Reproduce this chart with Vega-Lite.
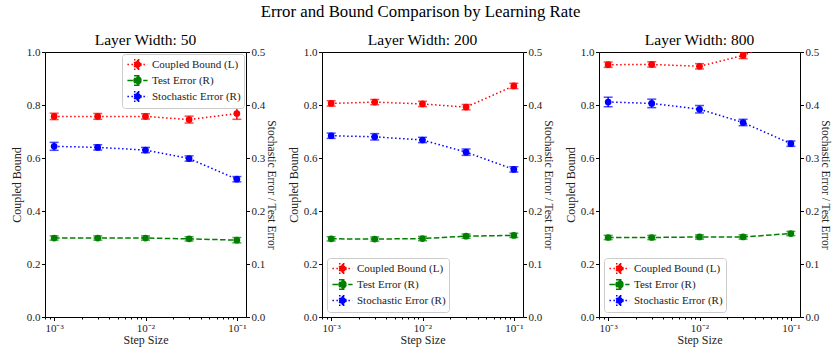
{
  "$schema": "https://vega.github.io/schema/vega-lite/v6.json",
  "background": "white",
  "padding": {"left": 9, "top": 4, "right": 0, "bottom": 2},
  "title": {"text": "Error and Bound Comparison by Learning Rate", "font": "Liberation Serif", "fontSize": 16.8, "fontWeight": "normal", "color": "black", "anchor": "middle", "offset": 11},
  "datasets": {
    "runs": [
      {"panel": 50, "step": 0.001, "series": "Coupled Bound (L)", "value": 0.757, "err": 0.012},
      {"panel": 50, "step": 0.003, "series": "Coupled Bound (L)", "value": 0.757, "err": 0.011},
      {"panel": 50, "step": 0.01, "series": "Coupled Bound (L)", "value": 0.757, "err": 0.010},
      {"panel": 50, "step": 0.03, "series": "Coupled Bound (L)", "value": 0.745, "err": 0.013},
      {"panel": 50, "step": 0.1, "series": "Coupled Bound (L)", "value": 0.768, "err": 0.022},
      {"panel": 50, "step": 0.001, "series": "Test Error (R)", "value": 0.149, "err": 0.004},
      {"panel": 50, "step": 0.003, "series": "Test Error (R)", "value": 0.149, "err": 0.004},
      {"panel": 50, "step": 0.01, "series": "Test Error (R)", "value": 0.149, "err": 0.004},
      {"panel": 50, "step": 0.03, "series": "Test Error (R)", "value": 0.1475, "err": 0.004},
      {"panel": 50, "step": 0.1, "series": "Test Error (R)", "value": 0.145, "err": 0.005},
      {"panel": 50, "step": 0.001, "series": "Stochastic Error (R)", "value": 0.322, "err": 0.0075},
      {"panel": 50, "step": 0.003, "series": "Stochastic Error (R)", "value": 0.320, "err": 0.005},
      {"panel": 50, "step": 0.01, "series": "Stochastic Error (R)", "value": 0.315, "err": 0.005},
      {"panel": 50, "step": 0.03, "series": "Stochastic Error (R)", "value": 0.299, "err": 0.005},
      {"panel": 50, "step": 0.1, "series": "Stochastic Error (R)", "value": 0.260, "err": 0.005},

      {"panel": 200, "step": 0.001, "series": "Coupled Bound (L)", "value": 0.806, "err": 0.010},
      {"panel": 200, "step": 0.003, "series": "Coupled Bound (L)", "value": 0.811, "err": 0.010},
      {"panel": 200, "step": 0.01, "series": "Coupled Bound (L)", "value": 0.804, "err": 0.010},
      {"panel": 200, "step": 0.03, "series": "Coupled Bound (L)", "value": 0.792, "err": 0.010},
      {"panel": 200, "step": 0.1, "series": "Coupled Bound (L)", "value": 0.872, "err": 0.010},
      {"panel": 200, "step": 0.001, "series": "Test Error (R)", "value": 0.1475, "err": 0.004},
      {"panel": 200, "step": 0.003, "series": "Test Error (R)", "value": 0.147, "err": 0.004},
      {"panel": 200, "step": 0.01, "series": "Test Error (R)", "value": 0.148, "err": 0.004},
      {"panel": 200, "step": 0.03, "series": "Test Error (R)", "value": 0.1525, "err": 0.004},
      {"panel": 200, "step": 0.1, "series": "Test Error (R)", "value": 0.154, "err": 0.004},
      {"panel": 200, "step": 0.001, "series": "Stochastic Error (R)", "value": 0.342, "err": 0.005},
      {"panel": 200, "step": 0.003, "series": "Stochastic Error (R)", "value": 0.340, "err": 0.006},
      {"panel": 200, "step": 0.01, "series": "Stochastic Error (R)", "value": 0.334, "err": 0.005},
      {"panel": 200, "step": 0.03, "series": "Stochastic Error (R)", "value": 0.311, "err": 0.006},
      {"panel": 200, "step": 0.1, "series": "Stochastic Error (R)", "value": 0.2785, "err": 0.005},

      {"panel": 800, "step": 0.001, "series": "Coupled Bound (L)", "value": 0.952, "err": 0.010},
      {"panel": 800, "step": 0.003, "series": "Coupled Bound (L)", "value": 0.953, "err": 0.010},
      {"panel": 800, "step": 0.01, "series": "Coupled Bound (L)", "value": 0.946, "err": 0.010},
      {"panel": 800, "step": 0.03, "series": "Coupled Bound (L)", "value": 0.987, "err": 0.012},
      {"panel": 800, "step": 0.1, "series": "Coupled Bound (L)", "value": 1.06, "err": 0.012},
      {"panel": 800, "step": 0.001, "series": "Test Error (R)", "value": 0.150, "err": 0.004},
      {"panel": 800, "step": 0.003, "series": "Test Error (R)", "value": 0.150, "err": 0.004},
      {"panel": 800, "step": 0.01, "series": "Test Error (R)", "value": 0.151, "err": 0.004},
      {"panel": 800, "step": 0.03, "series": "Test Error (R)", "value": 0.151, "err": 0.004},
      {"panel": 800, "step": 0.1, "series": "Test Error (R)", "value": 0.1575, "err": 0.004},
      {"panel": 800, "step": 0.001, "series": "Stochastic Error (R)", "value": 0.4057, "err": 0.009},
      {"panel": 800, "step": 0.003, "series": "Stochastic Error (R)", "value": 0.403, "err": 0.008},
      {"panel": 800, "step": 0.01, "series": "Stochastic Error (R)", "value": 0.392, "err": 0.007},
      {"panel": 800, "step": 0.03, "series": "Stochastic Error (R)", "value": 0.367, "err": 0.006},
      {"panel": 800, "step": 0.1, "series": "Stochastic Error (R)", "value": 0.327, "err": 0.005}
    ]
  },
  "data": {"name": "runs"},
  "spacing": 8,
  "resolve": {
    "scale": {"color": "independent", "strokeDash": "independent"},
    "legend": {"color": "independent", "strokeDash": "independent"}
  },
  "hconcat": [
    {
      "width": 201, "height": 265,
      "title": "Layer Width: 50",
      "transform": [{"filter": "datum.panel == 50"}],
      "layer": [
        {
          "transform": [{"filter": "datum.series == 'Coupled Bound (L)'"}],
          "layer": [
            {"mark": {"type": "line", "strokeWidth": 1.5, "clip": true},
             "encoding": {
               "x": {"field": "step", "type": "quantitative", "title": "Step Size", "scale": {"type": "log", "domain": [0.000794, 0.1259], "nice": false},
                     "axis": {"values": [0.0008, 0.0009, 0.001, 0.002, 0.003, 0.004, 0.005, 0.006, 0.007, 0.008, 0.009, 0.01, 0.02, 0.03, 0.04, 0.05, 0.06, 0.07, 0.08, 0.09, 0.1],
                              "labelExpr": "datum.value == 0.001 ? '10⁻³' : datum.value == 0.01 ? '10⁻²' : datum.value == 0.1 ? '10⁻¹' : ''",
                              "tickSize": {"condition": {"test": "datum.value == 0.001 || datum.value == 0.01 || datum.value == 0.1", "value": 3.5}, "value": 2}}},
               "y": {"field": "value", "type": "quantitative", "title": "Coupled Bound", "scale": {"domain": [0, 1], "nice": false, "zero": false},
                     "axis": {"values": [0, 0.2, 0.4, 0.6, 0.8, 1.0], "format": ".1f"}},
               "color": {"field": "series", "type": "nominal", "scale": {"domain": ["Coupled Bound (L)", "Test Error (R)", "Stochastic Error (R)"], "range": ["#ff0000", "#008000", "#0000ff"]},
                         "legend": {"orient": "top-right", "offset": 2, "labelFont": "Liberation Serif", "labelFontSize": 11, "rowPadding": -5, "padding": 3, "symbolOffset": 5, "labelOffset": 7, "encode": {"symbols": {"update": {"fill": {"signal": "datum.value == 'Coupled Bound (L)' ? '#ff0000' : datum.value == 'Test Error (R)' ? '#008000' : '#0000ff'"}}}}}},
               "strokeDash": {"field": "series", "type": "nominal", "scale": {"domain": ["Coupled Bound (L)", "Test Error (R)", "Stochastic Error (R)"], "range": [[1.5, 2.5], [5.5, 2.4], [1.5, 2.5]]},
                              "legend": {"orient": "top-right", "offset": 2, "labelFont": "Liberation Serif", "labelFontSize": 11, "rowPadding": -5, "padding": 3, "symbolOffset": 5, "labelOffset": 7}}
             }},
            {"mark": {"type": "errorbar", "ticks": {"size": 9}, "thickness": 1.5, "clip": true},
             "encoding": {
               "x": {"field": "step", "type": "quantitative", "title": "Step Size"},
               "y": {"field": "value", "type": "quantitative", "title": "Coupled Bound"},
               "yError": {"field": "err"},
               "color": {"field": "series", "type": "nominal",
                         "legend": {"orient": "top-right", "offset": 2, "labelFont": "Liberation Serif", "labelFontSize": 11, "rowPadding": -5, "padding": 3, "symbolOffset": 5, "labelOffset": 7, "encode": {"symbols": {"update": {"fill": {"signal": "datum.value == 'Coupled Bound (L)' ? '#ff0000' : datum.value == 'Test Error (R)' ? '#008000' : '#0000ff'"}}}}}}
             }},
            {"mark": {"type": "point", "filled": true, "size": 45, "opacity": 1, "clip": true},
             "encoding": {
               "x": {"field": "step", "type": "quantitative", "title": "Step Size"},
               "y": {"field": "value", "type": "quantitative", "title": "Coupled Bound"},
               "color": {"field": "series", "type": "nominal",
                         "legend": {"orient": "top-right", "offset": 2, "labelFont": "Liberation Serif", "labelFontSize": 11, "rowPadding": -5, "padding": 3, "symbolOffset": 5, "labelOffset": 7, "encode": {"symbols": {"update": {"fill": {"signal": "datum.value == 'Coupled Bound (L)' ? '#ff0000' : datum.value == 'Test Error (R)' ? '#008000' : '#0000ff'"}}}}}}
             }}
          ]
        },
        {
          "transform": [{"filter": "datum.series != 'Coupled Bound (L)'"}],
          "layer": [
            {"mark": {"type": "line", "strokeWidth": 1.5},
             "encoding": {
               "x": {"field": "step", "type": "quantitative", "title": "Step Size"},
               "y": {"field": "value", "type": "quantitative", "title": "Stochastic Error / Test Error", "scale": {"domain": [0, 0.5], "nice": false, "zero": false},
                     "axis": {"orient": "right", "values": [0, 0.1, 0.2, 0.3, 0.4, 0.5], "format": ".1f"}},
               "color": {"field": "series", "type": "nominal",
                         "legend": {"orient": "top-right", "offset": 2, "labelFont": "Liberation Serif", "labelFontSize": 11, "rowPadding": -5, "padding": 3, "symbolOffset": 5, "labelOffset": 7, "encode": {"symbols": {"update": {"fill": {"signal": "datum.value == 'Coupled Bound (L)' ? '#ff0000' : datum.value == 'Test Error (R)' ? '#008000' : '#0000ff'"}}}}}},
               "strokeDash": {"field": "series", "type": "nominal",
                              "legend": {"orient": "top-right", "offset": 2, "labelFont": "Liberation Serif", "labelFontSize": 11, "rowPadding": -5, "padding": 3, "symbolOffset": 5, "labelOffset": 7}}
             }},
            {"mark": {"type": "errorbar", "ticks": {"size": 9}, "thickness": 1.5},
             "encoding": {
               "x": {"field": "step", "type": "quantitative", "title": "Step Size"},
               "y": {"field": "value", "type": "quantitative", "title": "Stochastic Error / Test Error"},
               "yError": {"field": "err"},
               "color": {"field": "series", "type": "nominal",
                         "legend": {"orient": "top-right", "offset": 2, "labelFont": "Liberation Serif", "labelFontSize": 11, "rowPadding": -5, "padding": 3, "symbolOffset": 5, "labelOffset": 7, "encode": {"symbols": {"update": {"fill": {"signal": "datum.value == 'Coupled Bound (L)' ? '#ff0000' : datum.value == 'Test Error (R)' ? '#008000' : '#0000ff'"}}}}}}
             }},
            {"mark": {"type": "point", "filled": true, "size": 45, "opacity": 1},
             "encoding": {
               "x": {"field": "step", "type": "quantitative", "title": "Step Size"},
               "y": {"field": "value", "type": "quantitative", "title": "Stochastic Error / Test Error"},
               "color": {"field": "series", "type": "nominal",
                         "legend": {"orient": "top-right", "offset": 2, "labelFont": "Liberation Serif", "labelFontSize": 11, "rowPadding": -5, "padding": 3, "symbolOffset": 5, "labelOffset": 7, "encode": {"symbols": {"update": {"fill": {"signal": "datum.value == 'Coupled Bound (L)' ? '#ff0000' : datum.value == 'Test Error (R)' ? '#008000' : '#0000ff'"}}}}}}
             }}
          ]
        }
      ],
      "resolve": {"scale": {"y": "independent"}}
    },
    {
      "width": 201, "height": 265,
      "title": "Layer Width: 200",
      "transform": [{"filter": "datum.panel == 200"}],
      "layer": [
        {
          "transform": [{"filter": "datum.series == 'Coupled Bound (L)'"}],
          "layer": [
            {"mark": {"type": "line", "strokeWidth": 1.5, "clip": true},
             "encoding": {
               "x": {"field": "step", "type": "quantitative", "title": "Step Size", "scale": {"type": "log", "domain": [0.000794, 0.1259], "nice": false},
                     "axis": {"values": [0.0008, 0.0009, 0.001, 0.002, 0.003, 0.004, 0.005, 0.006, 0.007, 0.008, 0.009, 0.01, 0.02, 0.03, 0.04, 0.05, 0.06, 0.07, 0.08, 0.09, 0.1],
                              "labelExpr": "datum.value == 0.001 ? '10⁻³' : datum.value == 0.01 ? '10⁻²' : datum.value == 0.1 ? '10⁻¹' : ''",
                              "tickSize": {"condition": {"test": "datum.value == 0.001 || datum.value == 0.01 || datum.value == 0.1", "value": 3.5}, "value": 2}}},
               "y": {"field": "value", "type": "quantitative", "title": "Coupled Bound", "scale": {"domain": [0, 1], "nice": false, "zero": false},
                     "axis": {"values": [0, 0.2, 0.4, 0.6, 0.8, 1.0], "format": ".1f"}},
               "color": {"field": "series", "type": "nominal", "scale": {"domain": ["Coupled Bound (L)", "Test Error (R)", "Stochastic Error (R)"], "range": ["#ff0000", "#008000", "#0000ff"]},
                         "legend": {"orient": "bottom-left", "offset": 5, "labelFont": "Liberation Serif", "labelFontSize": 11, "rowPadding": -5, "padding": 3, "symbolOffset": 5, "labelOffset": 7, "encode": {"symbols": {"update": {"fill": {"signal": "datum.value == 'Coupled Bound (L)' ? '#ff0000' : datum.value == 'Test Error (R)' ? '#008000' : '#0000ff'"}}}}}},
               "strokeDash": {"field": "series", "type": "nominal", "scale": {"domain": ["Coupled Bound (L)", "Test Error (R)", "Stochastic Error (R)"], "range": [[1.5, 2.5], [5.5, 2.4], [1.5, 2.5]]},
                              "legend": {"orient": "bottom-left", "offset": 5, "labelFont": "Liberation Serif", "labelFontSize": 11, "rowPadding": -5, "padding": 3, "symbolOffset": 5, "labelOffset": 7}}
             }},
            {"mark": {"type": "errorbar", "ticks": {"size": 9}, "thickness": 1.5, "clip": true},
             "encoding": {
               "x": {"field": "step", "type": "quantitative", "title": "Step Size"},
               "y": {"field": "value", "type": "quantitative", "title": "Coupled Bound"},
               "yError": {"field": "err"},
               "color": {"field": "series", "type": "nominal",
                         "legend": {"orient": "bottom-left", "offset": 5, "labelFont": "Liberation Serif", "labelFontSize": 11, "rowPadding": -5, "padding": 3, "symbolOffset": 5, "labelOffset": 7, "encode": {"symbols": {"update": {"fill": {"signal": "datum.value == 'Coupled Bound (L)' ? '#ff0000' : datum.value == 'Test Error (R)' ? '#008000' : '#0000ff'"}}}}}}
             }},
            {"mark": {"type": "point", "filled": true, "size": 45, "opacity": 1, "clip": true},
             "encoding": {
               "x": {"field": "step", "type": "quantitative", "title": "Step Size"},
               "y": {"field": "value", "type": "quantitative", "title": "Coupled Bound"},
               "color": {"field": "series", "type": "nominal",
                         "legend": {"orient": "bottom-left", "offset": 5, "labelFont": "Liberation Serif", "labelFontSize": 11, "rowPadding": -5, "padding": 3, "symbolOffset": 5, "labelOffset": 7, "encode": {"symbols": {"update": {"fill": {"signal": "datum.value == 'Coupled Bound (L)' ? '#ff0000' : datum.value == 'Test Error (R)' ? '#008000' : '#0000ff'"}}}}}}
             }}
          ]
        },
        {
          "transform": [{"filter": "datum.series != 'Coupled Bound (L)'"}],
          "layer": [
            {"mark": {"type": "line", "strokeWidth": 1.5},
             "encoding": {
               "x": {"field": "step", "type": "quantitative", "title": "Step Size"},
               "y": {"field": "value", "type": "quantitative", "title": "Stochastic Error / Test Error", "scale": {"domain": [0, 0.5], "nice": false, "zero": false},
                     "axis": {"orient": "right", "values": [0, 0.1, 0.2, 0.3, 0.4, 0.5], "format": ".1f"}},
               "color": {"field": "series", "type": "nominal",
                         "legend": {"orient": "bottom-left", "offset": 5, "labelFont": "Liberation Serif", "labelFontSize": 11, "rowPadding": -5, "padding": 3, "symbolOffset": 5, "labelOffset": 7, "encode": {"symbols": {"update": {"fill": {"signal": "datum.value == 'Coupled Bound (L)' ? '#ff0000' : datum.value == 'Test Error (R)' ? '#008000' : '#0000ff'"}}}}}},
               "strokeDash": {"field": "series", "type": "nominal",
                              "legend": {"orient": "bottom-left", "offset": 5, "labelFont": "Liberation Serif", "labelFontSize": 11, "rowPadding": -5, "padding": 3, "symbolOffset": 5, "labelOffset": 7}}
             }},
            {"mark": {"type": "errorbar", "ticks": {"size": 9}, "thickness": 1.5},
             "encoding": {
               "x": {"field": "step", "type": "quantitative", "title": "Step Size"},
               "y": {"field": "value", "type": "quantitative", "title": "Stochastic Error / Test Error"},
               "yError": {"field": "err"},
               "color": {"field": "series", "type": "nominal",
                         "legend": {"orient": "bottom-left", "offset": 5, "labelFont": "Liberation Serif", "labelFontSize": 11, "rowPadding": -5, "padding": 3, "symbolOffset": 5, "labelOffset": 7, "encode": {"symbols": {"update": {"fill": {"signal": "datum.value == 'Coupled Bound (L)' ? '#ff0000' : datum.value == 'Test Error (R)' ? '#008000' : '#0000ff'"}}}}}}
             }},
            {"mark": {"type": "point", "filled": true, "size": 45, "opacity": 1},
             "encoding": {
               "x": {"field": "step", "type": "quantitative", "title": "Step Size"},
               "y": {"field": "value", "type": "quantitative", "title": "Stochastic Error / Test Error"},
               "color": {"field": "series", "type": "nominal",
                         "legend": {"orient": "bottom-left", "offset": 5, "labelFont": "Liberation Serif", "labelFontSize": 11, "rowPadding": -5, "padding": 3, "symbolOffset": 5, "labelOffset": 7, "encode": {"symbols": {"update": {"fill": {"signal": "datum.value == 'Coupled Bound (L)' ? '#ff0000' : datum.value == 'Test Error (R)' ? '#008000' : '#0000ff'"}}}}}}
             }}
          ]
        }
      ],
      "resolve": {"scale": {"y": "independent"}}
    },
    {
      "width": 201, "height": 265,
      "title": "Layer Width: 800",
      "transform": [{"filter": "datum.panel == 800"}],
      "layer": [
        {
          "transform": [{"filter": "datum.series == 'Coupled Bound (L)'"}],
          "layer": [
            {"mark": {"type": "line", "strokeWidth": 1.5, "clip": true},
             "encoding": {
               "x": {"field": "step", "type": "quantitative", "title": "Step Size", "scale": {"type": "log", "domain": [0.000794, 0.1259], "nice": false},
                     "axis": {"values": [0.0008, 0.0009, 0.001, 0.002, 0.003, 0.004, 0.005, 0.006, 0.007, 0.008, 0.009, 0.01, 0.02, 0.03, 0.04, 0.05, 0.06, 0.07, 0.08, 0.09, 0.1],
                              "labelExpr": "datum.value == 0.001 ? '10⁻³' : datum.value == 0.01 ? '10⁻²' : datum.value == 0.1 ? '10⁻¹' : ''",
                              "tickSize": {"condition": {"test": "datum.value == 0.001 || datum.value == 0.01 || datum.value == 0.1", "value": 3.5}, "value": 2}}},
               "y": {"field": "value", "type": "quantitative", "title": "Coupled Bound", "scale": {"domain": [0, 1], "nice": false, "zero": false},
                     "axis": {"values": [0, 0.2, 0.4, 0.6, 0.8, 1.0], "format": ".1f"}},
               "color": {"field": "series", "type": "nominal", "scale": {"domain": ["Coupled Bound (L)", "Test Error (R)", "Stochastic Error (R)"], "range": ["#ff0000", "#008000", "#0000ff"]},
                         "legend": {"orient": "bottom-left", "offset": 5, "labelFont": "Liberation Serif", "labelFontSize": 11, "rowPadding": -5, "padding": 3, "symbolOffset": 5, "labelOffset": 7, "encode": {"symbols": {"update": {"fill": {"signal": "datum.value == 'Coupled Bound (L)' ? '#ff0000' : datum.value == 'Test Error (R)' ? '#008000' : '#0000ff'"}}}}}},
               "strokeDash": {"field": "series", "type": "nominal", "scale": {"domain": ["Coupled Bound (L)", "Test Error (R)", "Stochastic Error (R)"], "range": [[1.5, 2.5], [5.5, 2.4], [1.5, 2.5]]},
                              "legend": {"orient": "bottom-left", "offset": 5, "labelFont": "Liberation Serif", "labelFontSize": 11, "rowPadding": -5, "padding": 3, "symbolOffset": 5, "labelOffset": 7}}
             }},
            {"mark": {"type": "errorbar", "ticks": {"size": 9}, "thickness": 1.5, "clip": true},
             "encoding": {
               "x": {"field": "step", "type": "quantitative", "title": "Step Size"},
               "y": {"field": "value", "type": "quantitative", "title": "Coupled Bound"},
               "yError": {"field": "err"},
               "color": {"field": "series", "type": "nominal",
                         "legend": {"orient": "bottom-left", "offset": 5, "labelFont": "Liberation Serif", "labelFontSize": 11, "rowPadding": -5, "padding": 3, "symbolOffset": 5, "labelOffset": 7, "encode": {"symbols": {"update": {"fill": {"signal": "datum.value == 'Coupled Bound (L)' ? '#ff0000' : datum.value == 'Test Error (R)' ? '#008000' : '#0000ff'"}}}}}}
             }},
            {"mark": {"type": "point", "filled": true, "size": 45, "opacity": 1, "clip": true},
             "encoding": {
               "x": {"field": "step", "type": "quantitative", "title": "Step Size"},
               "y": {"field": "value", "type": "quantitative", "title": "Coupled Bound"},
               "color": {"field": "series", "type": "nominal",
                         "legend": {"orient": "bottom-left", "offset": 5, "labelFont": "Liberation Serif", "labelFontSize": 11, "rowPadding": -5, "padding": 3, "symbolOffset": 5, "labelOffset": 7, "encode": {"symbols": {"update": {"fill": {"signal": "datum.value == 'Coupled Bound (L)' ? '#ff0000' : datum.value == 'Test Error (R)' ? '#008000' : '#0000ff'"}}}}}}
             }}
          ]
        },
        {
          "transform": [{"filter": "datum.series != 'Coupled Bound (L)'"}],
          "layer": [
            {"mark": {"type": "line", "strokeWidth": 1.5},
             "encoding": {
               "x": {"field": "step", "type": "quantitative", "title": "Step Size"},
               "y": {"field": "value", "type": "quantitative", "title": "Stochastic Error / Test Error", "scale": {"domain": [0, 0.5], "nice": false, "zero": false},
                     "axis": {"orient": "right", "values": [0, 0.1, 0.2, 0.3, 0.4, 0.5], "format": ".1f"}},
               "color": {"field": "series", "type": "nominal",
                         "legend": {"orient": "bottom-left", "offset": 5, "labelFont": "Liberation Serif", "labelFontSize": 11, "rowPadding": -5, "padding": 3, "symbolOffset": 5, "labelOffset": 7, "encode": {"symbols": {"update": {"fill": {"signal": "datum.value == 'Coupled Bound (L)' ? '#ff0000' : datum.value == 'Test Error (R)' ? '#008000' : '#0000ff'"}}}}}},
               "strokeDash": {"field": "series", "type": "nominal",
                              "legend": {"orient": "bottom-left", "offset": 5, "labelFont": "Liberation Serif", "labelFontSize": 11, "rowPadding": -5, "padding": 3, "symbolOffset": 5, "labelOffset": 7}}
             }},
            {"mark": {"type": "errorbar", "ticks": {"size": 9}, "thickness": 1.5},
             "encoding": {
               "x": {"field": "step", "type": "quantitative", "title": "Step Size"},
               "y": {"field": "value", "type": "quantitative", "title": "Stochastic Error / Test Error"},
               "yError": {"field": "err"},
               "color": {"field": "series", "type": "nominal",
                         "legend": {"orient": "bottom-left", "offset": 5, "labelFont": "Liberation Serif", "labelFontSize": 11, "rowPadding": -5, "padding": 3, "symbolOffset": 5, "labelOffset": 7, "encode": {"symbols": {"update": {"fill": {"signal": "datum.value == 'Coupled Bound (L)' ? '#ff0000' : datum.value == 'Test Error (R)' ? '#008000' : '#0000ff'"}}}}}}
             }},
            {"mark": {"type": "point", "filled": true, "size": 45, "opacity": 1},
             "encoding": {
               "x": {"field": "step", "type": "quantitative", "title": "Step Size"},
               "y": {"field": "value", "type": "quantitative", "title": "Stochastic Error / Test Error"},
               "color": {"field": "series", "type": "nominal",
                         "legend": {"orient": "bottom-left", "offset": 5, "labelFont": "Liberation Serif", "labelFontSize": 11, "rowPadding": -5, "padding": 3, "symbolOffset": 5, "labelOffset": 7, "encode": {"symbols": {"update": {"fill": {"signal": "datum.value == 'Coupled Bound (L)' ? '#ff0000' : datum.value == 'Test Error (R)' ? '#008000' : '#0000ff'"}}}}}}
             }}
          ]
        }
      ],
      "resolve": {"scale": {"y": "independent"}}
    }
  ],
  "config": {
    "font": "Liberation Serif",
    "view": {"stroke": "black", "strokeWidth": 1},
    "title": {"font": "Liberation Serif", "fontSize": 15.5, "fontWeight": "normal", "color": "black", "offset": -2},
    "axis": {"labelFont": "Liberation Serif", "labelFontSize": 11, "labelColor": "#222222", "titleFont": "Liberation Serif", "titleFontSize": 12, "titleFontWeight": "normal", "titleColor": "#222222", "tickColor": "black", "tickWidth": 1, "tickSize": 3.5, "domain": false, "grid": false, "labelPadding": 1.5, "titlePadding": 3},
    "axisX": {"titlePadding": 1},
    "axisRight": {"titlePadding": 1, "titleFontSize": 11.5},
    "legend": {
      "title": null,
      "labelFont": "Liberation Serif", "labelFontSize": 11, "labelColor": "#222222",
      "symbolType": "M-1.55,0H1.55M0,-0.72V0.72M-0.54,-0.72H0.54M-0.54,0.72H0.54M0.54,0A0.54,0.54,0,1,1,-0.54,0A0.54,0.54,0,1,1,0.54,0Z",
      "symbolSize": 169, "symbolStrokeWidth": 1.5, "symbolOpacity": 1,
      "fillColor": "white", "strokeColor": "#cccccc", "cornerRadius": 3, "padding": 3, "rowPadding": -5,
      "symbolOffset": 5, "labelOffset": 7
    }
  }
}
